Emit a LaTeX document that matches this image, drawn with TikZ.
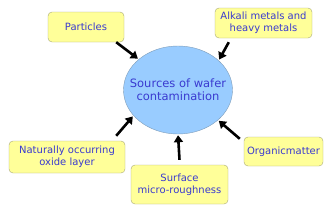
\documentclass[tikz,border=0pt]{standalone}
\usepackage{fontspec}
\setmainfont{DejaVu Sans}
\usepackage{tikz}
\usetikzlibrary{shapes.geometric,arrows.meta}
\definecolor{note}{HTML}{FFFF99}
\definecolor{noteline}{HTML}{A8A878}
\definecolor{sky}{HTML}{99CCFF}
\definecolor{skyline}{HTML}{7F9DB9}
\definecolor{inktext}{HTML}{3A3AD0}

\begin{document}
\begin{tikzpicture}[x=1pt,y=-1pt,
  font=\fontsize{10}{12}\selectfont,
  cause/.style={draw=noteline,rounded corners=4pt,fill=note,align=center,text=inktext,inner sep=2pt},
  hub/.style={ellipse,draw=skyline,fill=sky,text=inktext,align=center,minimum width=109pt,minimum height=88pt,inner xsep=-10pt,inner ysep=0pt,font=\fontsize{11.5}{13}\selectfont},
  arrow/.style={-{Triangle[length=7pt,width=9pt]},line width=2.6pt,black,shorten >=1pt}]
\useasboundingbox (0,0) rectangle (332,214);
\node[hub] (src) at (178,90) {Sources of wafer\\contamination};
\node[cause,minimum width=76pt,minimum height=30pt] (part) at (86,27) {Particles};
\node[cause,minimum width=97pt,minimum height=30pt] (alk) at (263.5,23) {Alkali metals and\\heavy metals};
\node[cause,minimum width=116pt,minimum height=32pt] (nat) at (67,157) {Naturally occurring\\oxide layer};
\node[cause,minimum width=97pt,minimum height=39pt] (surf) at (179.5,184.5) {Surface\\micro-roughness};
\node[cause,minimum width=79pt,minimum height=29pt] (org) at (283.5,151.5) {Organicmatter};
\draw[arrow] ([xshift=-8pt]part.south east) -- (src.142);
\draw[arrow] ([xshift=14pt,yshift=-4pt]alk.south west) -- (src.36);
\draw[arrow] ([xshift=-9pt,yshift=5pt]nat.north east) -- (src.210);
\draw[arrow] ([yshift=5pt]surf.north) -- (src.south);
\draw[arrow] ([xshift=-4pt,yshift=-2pt]org.north west) -- (src.323);
\end{tikzpicture}
\end{document}
